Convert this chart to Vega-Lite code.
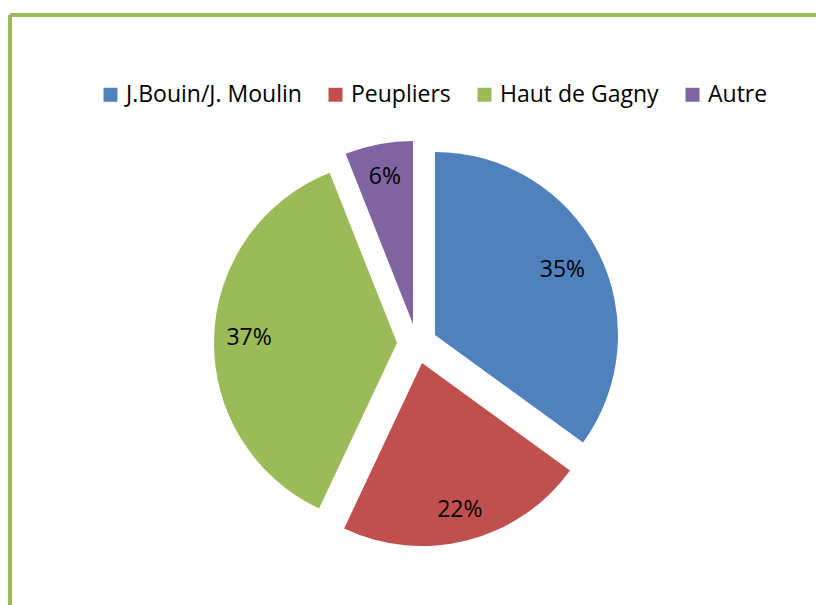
{
  "$schema": "https://vega.github.io/schema/vega-lite/v6.json",
  "width": 806,
  "height": 590,
  "autosize": {"type": "none"},
  "padding": {"left": 10, "top": 15, "right": 0, "bottom": 0},
  "background": "white",
  "view": {"stroke": "#9BBB59", "strokeWidth": 4, "fill": "white", "strokeDash": [806, 1396, 590, 0]},
  "config": {
    "font": "Open Sans"
  },
  "data": {
    "values": [
      {"cat": "J.Bouin/J. Moulin", "value": 0.35, "order": 1},
      {"cat": "Peupliers", "value": 0.22, "order": 2},
      {"cat": "Haut de Gagny", "value": 0.37, "order": 3},
      {"cat": "Autre", "value": 0.06, "order": 4}
    ]
  },
  "encoding": {
    "theta": {"field": "value", "type": "quantitative", "stack": true},
    "order": {"field": "order", "type": "quantitative"},
    "detail": {"field": "cat", "type": "nominal"},
    "color": {
      "field": "cat",
      "type": "nominal",
      "scale": {
        "domain": ["J.Bouin/J. Moulin", "Peupliers", "Haut de Gagny", "Autre"],
        "range": ["#4F81BD", "#C0504D", "#9BBB59", "#8064A2"]
      },
      "legend": {
        "orient": "none",
        "legendX": 89,
        "legendY": 68,
        "direction": "horizontal",
        "title": null,
        "symbolType": "square",
        "symbolSize": 196,
        "symbolStrokeWidth": 0,
        "symbolOpacity": 1,
        "labelFont": "Open Sans",
        "labelFontSize": 23,
        "labelColor": "black",
        "labelOffset": 4,
        "columnPadding": 22,
        "labelLimit": 400,
        "padding": 0
      }
    }
  },
  "layer": [
    {
      "mark": {"type": "arc", "radius": 183, "xOffset": 22, "yOffset": 25},
      "encoding": {"fillOpacity": {"condition": {"test": "datum.cat === 'J.Bouin/J. Moulin'", "value": 1}, "value": 0}}
    },
    {
      "mark": {"type": "arc", "radius": 183, "xOffset": 9, "yOffset": 53},
      "encoding": {"fillOpacity": {"condition": {"test": "datum.cat === 'Peupliers'", "value": 1}, "value": 0}}
    },
    {
      "mark": {"type": "arc", "radius": 183, "xOffset": -16, "yOffset": 33},
      "encoding": {"fillOpacity": {"condition": {"test": "datum.cat === 'Haut de Gagny'", "value": 1}, "value": 0}}
    },
    {
      "mark": {"type": "arc", "radius": 183, "xOffset": 0, "yOffset": 14},
      "encoding": {"fillOpacity": {"condition": {"test": "datum.cat === 'Autre'", "value": 1}, "value": 0}}
    },
    {
      "mark": {"type": "text", "radius": 143, "xOffset": 22, "yOffset": 25, "fontSize": 23, "font": "Open Sans"},
      "encoding": {
        "text": {"field": "value", "type": "quantitative", "format": ".0%"},
        "color": {"value": "black"},
        "opacity": {"condition": {"test": "datum.cat === 'J.Bouin/J. Moulin'", "value": 1}, "value": 0}
      }
    },
    {
      "mark": {"type": "text", "radius": 152, "xOffset": 9, "yOffset": 53, "fontSize": 23, "font": "Open Sans"},
      "encoding": {
        "text": {"field": "value", "type": "quantitative", "format": ".0%"},
        "color": {"value": "black"},
        "opacity": {"condition": {"test": "datum.cat === 'Peupliers'", "value": 1}, "value": 0}
      }
    },
    {
      "mark": {"type": "text", "radius": 148, "xOffset": -16, "yOffset": 33, "fontSize": 23, "font": "Open Sans"},
      "encoding": {
        "text": {"field": "value", "type": "quantitative", "format": ".0%"},
        "color": {"value": "black"},
        "opacity": {"condition": {"test": "datum.cat === 'Haut de Gagny'", "value": 1}, "value": 0}
      }
    },
    {
      "mark": {"type": "text", "radius": 150, "xOffset": 0, "yOffset": 14, "fontSize": 23, "font": "Open Sans"},
      "encoding": {
        "text": {"field": "value", "type": "quantitative", "format": ".0%"},
        "color": {"value": "black"},
        "opacity": {"condition": {"test": "datum.cat === 'Autre'", "value": 1}, "value": 0}
      }
    }
  ]
}
